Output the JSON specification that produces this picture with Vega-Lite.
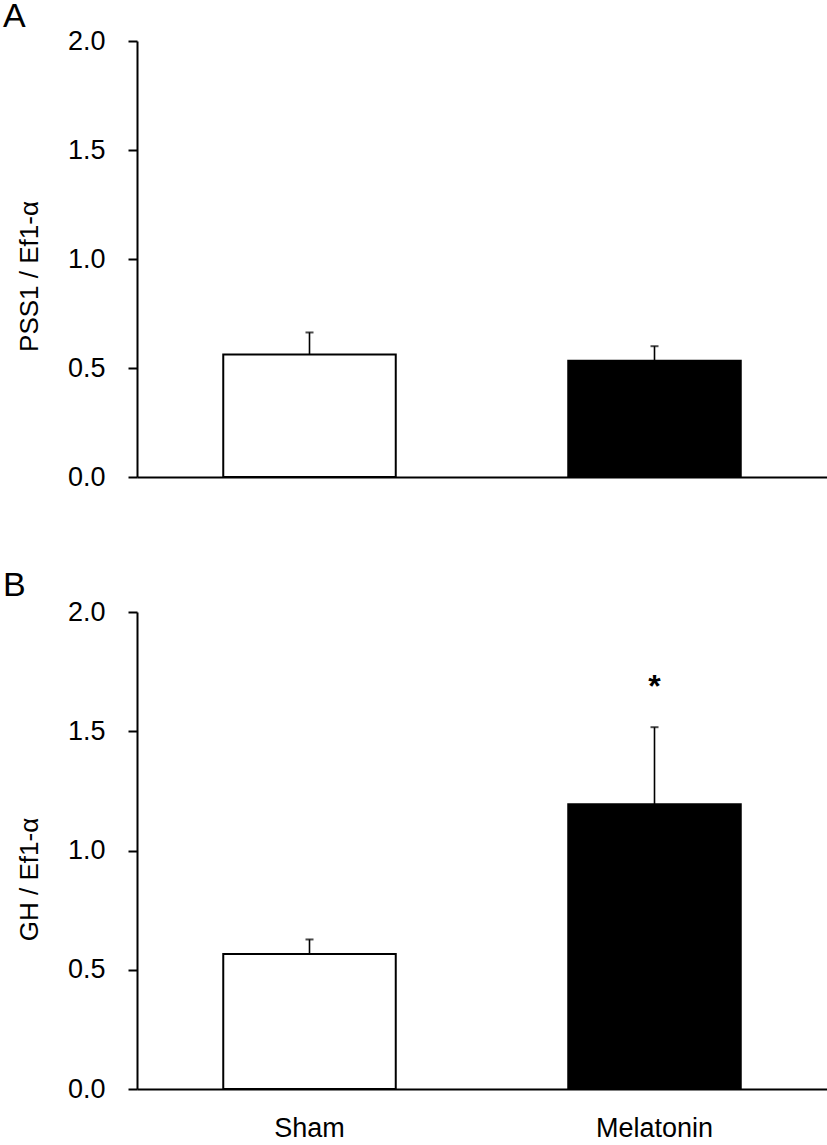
{
  "$schema": "https://vega.github.io/schema/vega-lite/v6.json",
  "padding": {"left": 3, "top": -1, "right": 0, "bottom": 5},
  "background": "white",
  "datasets": {
    "pss1": [
      {"group": "Sham", "mean": 0.562, "upper": 0.663, "sig": ""},
      {"group": "Melatonin", "mean": 0.533, "upper": 0.60, "sig": ""}
    ],
    "gh": [
      {"group": "Sham", "mean": 0.566, "upper": 0.627, "sig": ""},
      {"group": "Melatonin", "mean": 1.194, "upper": 1.517, "sig": "*"}
    ]
  },
  "vconcat": [
    {
      "width": 690,
      "height": 436,
      "title": {"text": "A", "anchor": "start", "frame": "group", "dx": -134, "baseline": "top", "offset": 0, "dy": 6.5},
      "data": {"name": "pss1"},
      "encoding": {
        "x": {"field": "group", "type": "nominal", "sort": ["Sham", "Melatonin"],
          "scale": {"domain": ["Sham", "Melatonin"], "paddingInner": 0.5, "paddingOuter": 0.25},
          "axis": {"title": null, "labels": false, "ticks": false}}
      },
      "layer": [
        {
          "mark": {"type": "bar", "stroke": "black", "strokeWidth": 2},
          "encoding": {
            "y": {"field": "mean", "type": "quantitative", "scale": {"domain": [0, 2], "nice": false},
              "axis": {"title": "PSS1 / Ef1-α", "values": [0, 0.5, 1, 1.5, 2], "format": ".1f", "titleY": 235}},
            "color": {"field": "group", "type": "nominal", "scale": {"domain": ["Sham", "Melatonin"], "range": ["white", "black"]}, "legend": null}
          }
        },
        {
          "mark": {"type": "rule", "color": "black", "strokeWidth": 1.6},
          "encoding": {"y": {"field": "mean", "type": "quantitative"}, "y2": {"field": "upper"}}
        },
        {
          "mark": {"type": "tick", "color": "black", "size": 8, "thickness": 2, "orient": "horizontal"},
          "encoding": {"y": {"field": "upper", "type": "quantitative"}}
        }
      ]
    },
    {
      "width": 690,
      "height": 477,
      "title": {"text": "B", "anchor": "start", "frame": "group", "dx": -134, "baseline": "top", "offset": 0, "dy": 4.5},
      "data": {"name": "gh"},
      "encoding": {
        "x": {"field": "group", "type": "nominal", "sort": ["Sham", "Melatonin"],
          "scale": {"domain": ["Sham", "Melatonin"], "paddingInner": 0.5, "paddingOuter": 0.25},
          "axis": {"title": null, "ticks": false, "labelAngle": 0, "labelPadding": 26}}
      },
      "layer": [
        {
          "mark": {"type": "bar", "stroke": "black", "strokeWidth": 2},
          "encoding": {
            "y": {"field": "mean", "type": "quantitative", "scale": {"domain": [0, 2], "nice": false},
              "axis": {"title": "GH / Ef1-α", "values": [0, 0.5, 1, 1.5, 2], "format": ".1f", "titleY": 267}},
            "color": {"field": "group", "type": "nominal", "scale": {"domain": ["Sham", "Melatonin"], "range": ["white", "black"]}, "legend": null}
          }
        },
        {
          "mark": {"type": "rule", "color": "black", "strokeWidth": 1.6},
          "encoding": {"y": {"field": "mean", "type": "quantitative"}, "y2": {"field": "upper"}}
        },
        {
          "mark": {"type": "tick", "color": "black", "size": 8, "thickness": 2, "orient": "horizontal"},
          "encoding": {"y": {"field": "upper", "type": "quantitative"}}
        },
        {
          "mark": {"type": "text", "font": "Liberation Sans", "fontSize": 32, "fontWeight": "bold", "baseline": "middle", "dy": -40, "color": "black"},
          "encoding": {"y": {"field": "upper", "type": "quantitative"}, "text": {"field": "sig"}}
        }
      ]
    }
  ],
  "spacing": 135,
  "bounds": "flush",
  "config": {
    "view": {"stroke": null},
    "font": "Liberation Sans",
    "title": {"font": "Liberation Sans", "fontSize": 34, "fontWeight": "normal", "color": "black"},
    "axis": {
      "grid": false,
      "domainColor": "black", "domainWidth": 2,
      "tickColor": "black", "tickWidth": 2, "tickSize": 9,
      "labelFont": "Liberation Sans", "labelFontSize": 27, "labelColor": "black", "labelPadding": 23,
      "titleFont": "Liberation Sans", "titleFontSize": 26, "titleFontWeight": "normal", "titleColor": "black", "titlePadding": 25
    }
  }
}
